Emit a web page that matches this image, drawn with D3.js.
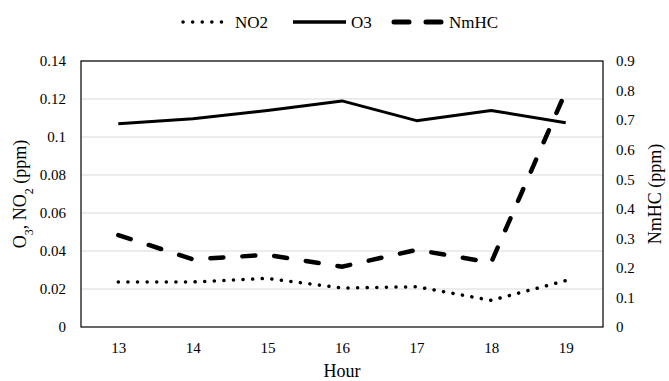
<!DOCTYPE html>
<html>
<head>
<meta charset="utf-8">
<script src="https://cdn.jsdelivr.net/npm/d3@7"></script>
<style>
  body { margin: 0; background: #fff; }
  svg text { font-family: "Liberation Serif", "Times New Roman", serif !important; fill: #000; }
</style>
</head>
<body>
<div id="chart"></div>
<script>
// data
var hours = [13, 14, 15, 16, 17, 18, 19];
var no2 = [0.0237, 0.0237, 0.0256, 0.0205, 0.0212, 0.0140, 0.0244];
var o3 = [0.107, 0.1096, 0.114, 0.119, 0.1086, 0.114, 0.1075];
var nmhc = [0.311, 0.229, 0.244, 0.204, 0.261, 0.218, 0.796];
var leftTicks = [0, 0.02, 0.04, 0.06, 0.08, 0.1, 0.12, 0.14];
var rightTicks = [0, 0.1, 0.2, 0.3, 0.4, 0.5, 0.6, 0.7, 0.8, 0.9];

var width = 669, height = 381;
var margin = {top: 61, right: 66, bottom: 54, left: 81};
var w = width - margin.left - margin.right;
var h = height - margin.top - margin.bottom;
var font = 'Liberation Serif';

var svg = d3.select('#chart')
    .append('svg')
    .attr('width', width)
    .attr('height', height)
    .attr('font-family', font);

var g = svg.append('g')
    .attr('transform', 'translate(' + margin.left + ',' + margin.top + ')');

var x = d3.scalePoint()
    .domain(hours)
    .range([0, w])
    .padding(0.5);

var yL = d3.scaleLinear()
    .domain([0, 0.14])
    .range([h, 0]);

var yR = d3.scaleLinear()
    .domain([0, 0.9])
    .range([h, 0]);

// gridlines
g.selectAll('.grid')
    .data(leftTicks.slice(1))
    .enter()
    .append('line')
    .attr('x1', 0)
    .attr('x2', w)
    .attr('y1', d => yL(d))
    .attr('y2', d => yL(d))
    .attr('stroke', '#d9d9d9')
    .attr('stroke-width', 1);

// left axis
var axL = g.append('g')
    .call(d3.axisLeft(yL).tickValues(leftTicks).tickSize(0).tickPadding(15).tickFormat(d => String(+d.toFixed(2))));
axL.select('.domain').remove();

// right axis
var axR = g.append('g')
    .attr('transform', 'translate(' + w + ',0)')
    .call(d3.axisRight(yR).tickValues(rightTicks).tickSize(0).tickPadding(13).tickFormat(d => String(+d.toFixed(1))));
axR.select('.domain').remove();

// bottom axis
var axB = g.append('g')
    .attr('transform', 'translate(0,' + h + ')')
    .call(d3.axisBottom(x).tickSize(0).tickPadding(15));
axB.select('.domain').remove();

[axL, axR, axB].forEach(function (a) {
    a.attr('font-family', font).attr('font-size', 15);
    a.selectAll('text').style('font-family', font).style('font-size', '15px');
});

// plot frame
g.append('rect')
    .attr('x', 0)
    .attr('y', 0)
    .attr('width', w)
    .attr('height', h)
    .attr('fill', 'none')
    .attr('stroke', 'black')
    .attr('stroke-width', 1.2);

var lineL = d3.line()
    .x((d, i) => x(hours[i]))
    .y(d => yL(d));

var lineR = d3.line()
    .x((d, i) => x(hours[i]))
    .y(d => yR(d));

// NO2 dotted
g.append('path')
    .attr('d', lineL(no2))
    .attr('fill', 'none')
    .attr('stroke', 'black')
    .attr('stroke-width', 3.5)
    .attr('stroke-linecap', 'round')
    .attr('stroke-dasharray', '0.1 9.5');

// O3 solid
g.append('path')
    .attr('d', lineL(o3))
    .attr('fill', 'none')
    .attr('stroke', 'black')
    .attr('stroke-width', 3)
    .attr('stroke-linejoin', 'round');

// NmHC dashed
g.append('path')
    .attr('d', lineR(nmhc))
    .attr('fill', 'none')
    .attr('stroke', 'black')
    .attr('stroke-width', 4.5)
    .attr('stroke-linecap', 'round')
    .attr('stroke-dasharray', '13 19');

// axis titles
svg.append('text')
    .attr('x', margin.left + w / 2)
    .attr('y', 377)
    .attr('text-anchor', 'middle')
    .style('font-size', '18px')
    .text('Hour');

var tl = svg.append('text')
    .attr('transform', 'translate(26,' + (margin.top + h / 2) + ') rotate(-90)')
    .attr('text-anchor', 'middle')
    .style('font-size', '18px');
tl.append('tspan').text('O');
tl.append('tspan').attr('baseline-shift', 'sub').style('font-size', '12px').text('3');
tl.append('tspan').text(', NO');
tl.append('tspan').attr('baseline-shift', 'sub').style('font-size', '12px').text('2');
tl.append('tspan').text(' (ppm)');

svg.append('text')
    .attr('transform', 'translate(661,' + (margin.top + h / 2) + ') rotate(-90)')
    .attr('text-anchor', 'middle')
    .style('font-size', '18px')
    .text('NmHC (ppm)');

// legend
var legend = [
    {name: 'NO2', x1: 183, x2: 230, dash: '0.1 9.5', sw: 3.5, cap: 'round'},
    {name: 'O3', x1: 293, x2: 346, dash: null, sw: 3.5, cap: 'butt'},
    {name: 'NmHC', x1: 394, x2: 444, dash: '15 17', sw: 5, cap: 'round'}
];
var lg = svg.append('g');
legend.forEach(function (d) {
    var l = lg.append('line')
        .attr('x1', d.x1)
        .attr('x2', d.x2)
        .attr('y1', 22)
        .attr('y2', 22)
        .attr('stroke', 'black')
        .attr('stroke-width', d.sw)
        .attr('stroke-linecap', d.cap);
    if (d.dash) l.attr('stroke-dasharray', d.dash);
    lg.append('text')
        .attr('x', d.x2 + 5)
        .attr('y', 28)
        .style('font-size', '17px')
        .text(d.name);
});
</script>
</body>
</html>
